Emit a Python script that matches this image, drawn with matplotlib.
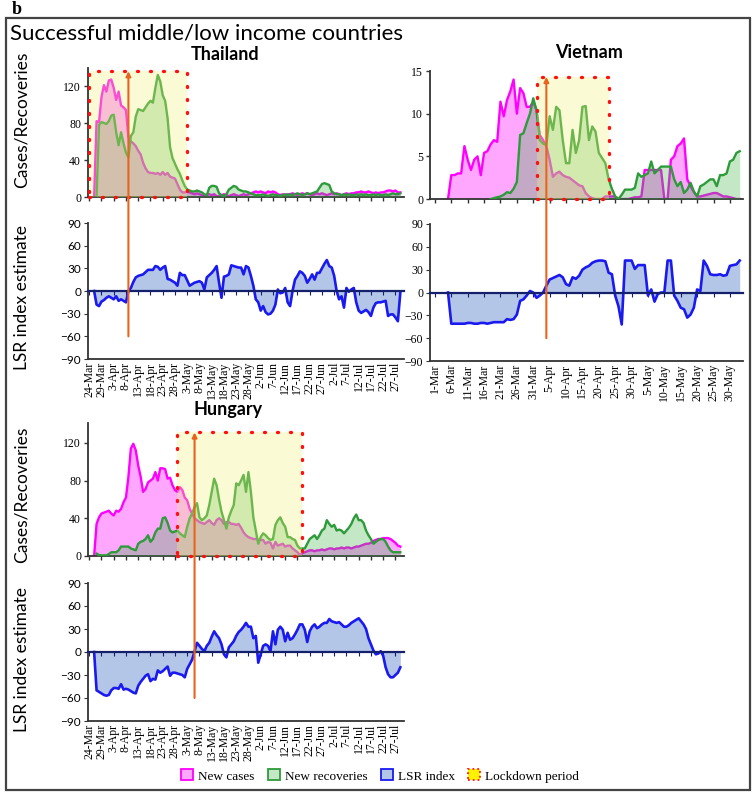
import matplotlib
matplotlib.use('Agg')
import matplotlib.pyplot as plt
from matplotlib.patches import Rectangle, Patch, ConnectionPatch
import numpy as np
import pandas as pd

# ---- data (daily values) ----
th_axis_start = '2020-03-24'
th_case_start = '2020-03-26'
th_cases = [0, 82, 81, 108, 121, 114, 126, 127, 118, 105, 114,
            99, 97, 94, 65, 60, 58, 55, 50, 46, 37,
            31, 27, 26, 26, 25, 26, 24, 27, 24, 26,
            22, 21, 20, 14, 8, 5, 5, 6, 5, 4,
            3, 4, 3, 2, 1, 2, 3, 2, 3, 1,
            1, 2, 3, 2, 1, 2, 3, 2, 1, 2,
            3, 2, 3, 4, 5, 6, 5, 6, 5, 4,
            6, 5, 6, 5, 3, 2, 3, 2, 3, 3,
            4, 3, 2, 3, 4, 3, 4, 3, 2, 3,
            4, 3, 4, 3, 2, 3, 4, 3, 4, 3,
            2, 3, 4, 3, 4, 4, 5, 5, 6, 5,
            5, 6, 5, 4, 5, 4, 5, 5, 6, 7,
            7, 6, 7, 5, 5]
th_rec_start = '2020-03-27'
th_recoveries = [2, 78, 81, 80, 79, 82, 88, 89, 70, 56,
                 70, 58, 48, 43, 66, 70, 87, 95, 94, 93,
                 97, 101, 104, 102, 118, 132, 125, 110, 104, 85,
                 54, 42, 36, 30, 25, 18, 12, 8, 7, 6,
                 6, 7, 6, 5, 3, 2, 10, 12, 12, 11,
                 4, 2, 1, 3, 8, 10, 12, 11, 8, 7,
                 6, 6, 5, 4, 3, 2, 2, 2, 3, 2,
                 1, 2, 3, 2, 2, 1, 2, 3, 2, 3,
                 2, 3, 4, 3, 2, 3, 4, 3, 4, 5,
                 6, 10, 14, 15, 14, 13, 6, 4, 3, 3,
                 2, 3, 2, 3, 2, 2, 3, 2, 3, 2,
                 3, 2, 2, 3, 2, 3, 2, 2, 3, 2,
                 3, 4, 3, 3, 4]
th_lsr_start = '2020-03-26'
th_lsr = [0, -18, -20, -14, -12, -9, -7, -9, -11, -7,
          -13, -11, -13, -15, 0, 4, 12, 18, 20, 21,
          22, 25, 28, 28, 28, 33, 32, 28, 31, 33,
          16, 15, 13, 11, 7, 24, 21, 21, 14, 7,
          9, 11, 12, 13, 11, 2, 18, 21, 24, 28,
          33, 11, -9, 19, 20, 22, 34, 33, 32, 31,
          31, 22, 33, 31, 20, 7, -11, -15, -26, -20,
          -28, -31, -30, -26, -18, 2, -3, -2, 4, -15,
          -20, 0, 15, 20, 26, 24, 20, 11, 16, 22,
          15, 24, 24, 30, 36, 41, 33, 31, 20, 0,
          -11, -7, -22, 4, -1, 2, 4, -15, -26, -29,
          -27, -25, -28, -33, -22, -16, -15, -15, -14, -13,
          -33, -31, -31, -35, -40, -2]
th_lockdown = ('2020-03-24', '2020-05-03')
th_arrow_date = '2020-04-09'

vn_axis_start = '2020-03-01'
vn_case_start = '2020-03-05'
vn_cases = [0, 2.8, 2.8, 3, 3, 6.2, 4.6, 3.4, 4.6, 5,
            2.8, 5.4, 5.6, 6.4, 6.9, 6.7, 11.4, 9.7, 11.6, 12.6,
            14, 10, 13, 12.4, 10.8, 10.8, 11.4, 10.4, 7.5, 6.9,
            6.2, 4.6, 2.6, 3, 3.2, 2.8, 2.6, 2.5, 2.2, 1.9,
            1.6, 1.5, 0.7, 0.3, 0.1, 0, 0, 0, 0.3, 0.3,
            0.3, 0.3, 0, 0, 0, 0, 0.1, 0.2, 0.2, 0.3,
            3.4, 3.4, 3.4, 3.4, 3.4, 3.4, 0, 0, 4.6, 5,
            6.2, 6.5, 7.1, 2.3, 1.5, 0.8, 0.3, 0.3, 0.4, 0.5,
            0.6, 0.7, 0.7, 0.5, 0.3, 0.3, 0.2, 0.1, 0, 0]
vn_rec_start = '2020-03-18'
vn_recoveries = [0, 0.1, 0.2, 0.3, 0.5, 0.8, 0.7, 1.2, 2, 7.5,
                 7.7, 8.9, 10, 11.8, 10.4, 6.9, 6.5, 6.3, 9.7, 8.1,
                 10.8, 10.4, 6.9, 4.2, 4.2, 8.1, 5.4, 6.9, 10.8, 10.9,
                 6.9, 8.5, 7.9, 5.4, 4.8, 4.2, 2.3, 1.2, 0.3, 0,
                 0.5, 1.1, 1.1, 1.1, 1.3, 3, 2.6, 2.8, 3, 4.4,
                 3, 3.4, 3.8, 3.8, 3.8, 3.8, 2.3, 1.5, 2, 0.7,
                 1.1, 1.9, 0.9, 0.3, 1.5, 1.7, 2, 2.3, 2.3, 1.5,
                 2.8, 2.8, 3, 4.4, 4.6, 5.4, 5.6]
vn_lsr_start = '2020-03-05'
vn_lsr = [0, -41, -41, -41, -41, -41, -40, -40, -41, -41,
          -40, -40, -41, -40, -39, -39, -39, -39, -35, -36,
          -35, -29, -11, -9, -4, 2, 0, -7, -4, 0,
          9, 17, 19, 21, 23, 20, 11, 9, 20, 18,
          22, 30, 33, 35, 39, 41, 42, 42, 41, 26,
          24, -4, -18, -42, 42, 42, 42, 31, 36, 36,
          36, -4, 4, -12, -2, 0, 0, 42, 42, -4,
          -11, -20, -22, -33, -29, -20, 4, 2, 42, 35,
          24, 23, 23, 24, 22, 23, 35, 36, 37, 42]
vn_lockdown = ('2020-04-01', '2020-04-23')
vn_arrow_date = '2020-04-04'

hu_axis_start = '2020-03-24'
hu_case_start = '2020-03-26'
hu_cases = [0, 34, 41, 45, 46, 47, 48, 45, 43, 48, 47,
            50, 57, 62, 84, 114, 119, 112, 96, 84, 68,
            71, 78, 80, 82, 89, 80, 93, 93, 92, 82,
            83, 75, 70, 68, 73, 70, 62, 59, 50, 45,
            40, 38, 36, 35, 34, 36, 38, 35, 33, 38,
            40, 38, 34, 36, 36, 34, 34, 33, 34, 30,
            25, 22, 20, 19, 18, 18, 17, 17, 17, 13,
            15, 14, 8, 15, 11, 12, 13, 10, 11, 11,
            8, 6, 4, 1, 3, 4, 5, 6, 6, 5,
            6, 6, 7, 6, 7, 8, 8, 7, 8, 8,
            9, 8, 9, 9, 8, 9, 10, 10, 11, 12,
            13, 13, 14, 16, 17, 18, 18, 19, 19, 19,
            18, 16, 14, 11, 10]
hu_rec_start = '2020-03-27'
hu_recoveries = [2.5, 1, 0.7, 0.7, 0.7, 2, 4, 4, 4, 6,
                 10, 10, 10, 10, 8, 7, 6, 13, 15, 16,
                 18, 22, 15, 18, 25, 29, 29, 40, 41, 35,
                 27, 25, 26, 27, 24, 22, 20, 31, 40, 45,
                 52, 56, 41, 38, 40, 43, 54, 68, 82, 75,
                 60, 47, 38, 29, 41, 48, 54, 77, 75, 80,
                 86, 68, 89, 68, 41, 27, 13, 20, 24, 22,
                 19, 17, 18, 33, 38, 41, 35, 31, 20, 20,
                 18, 17, 11, 8, 8, 8, 13, 18, 20, 22,
                 18, 22, 27, 29, 38, 34, 31, 33, 27, 28,
                 27, 24, 27, 30, 34, 40, 44, 38, 38, 35,
                 27, 22, 18, 13, 15, 17, 18, 18, 15, 10,
                 6, 4, 4, 4, 4]
hu_lsr_start = '2020-03-26'
hu_lsr = [0, -50, -52, -54, -56, -57, -56, -50, -47, -47,
          -48, -42, -49, -48, -49, -51, -53, -54, -44, -39,
          -35, -31, -29, -38, -35, -36, -24, -27, -25, -22,
          -19, -31, -27, -27, -28, -29, -30, -33, -22, -16,
          -10, 1, 12, 8, 4, 1, 8, 12, 20, 27,
          22, 18, 10, -3, -7, 6, 10, 14, 21, 26,
          29, 33, 38, 33, 33, 18, 21, -14, -3, 8,
          10, 8, 1, 27, 10, 29, 33, 29, 14, 25,
          16, 18, 23, 29, 36, 36, 29, 13, 27, 33,
          36, 31, 33, 36, 38, 38, 43, 40, 39, 38,
          39, 36, 33, 33, 35, 38, 40, 42, 44, 40,
          36, 30, 18, 10, 2, -3, -2, 1, -5, -20,
          -29, -33, -33, -30, -27, -20]
hu_lockdown = ('2020-04-29', '2020-06-19')
hu_arrow_date = '2020-05-06'

legend_labels = ['New cases', 'New recoveries', 'LSR index', 'Lockdown period']

# ---- style ----
W, H = 755, 795
MAG = '#FF00FF'
GRN_FILL = '#3CB043'
GRN_LINE = '#2E9B3A'
LSR_LINE = '#1A1AF0'
LSR_FILL = '#B4C6E7'
NAVY = '#14206B'
ORANGE = '#E8641E'
SERIF = 'Liberation Serif'
SANS = 'Lato'

fig = plt.figure(figsize=(W / 100, H / 100), dpi=100)


def add_ax(l, t, r, b):
    return fig.add_axes([l / W, 1 - b / H, (r - l) / W, (b - t) / H])


def day(date, start):
    return (pd.Timestamp(date) - pd.Timestamp(start)).days


def days_for(start_date, axis_start, vals):
    return day(start_date, axis_start) + np.arange(len(vals))


def draw_country(ax_top, ax_lsr, axis_start, n_ticks, xlim, ylim_top, yticks_top,
                 cases, case_start, recs, rec_start, lsr, lsr_start,
                 lockdown, box_top, arrow_date, lsr_tick_font):
    xc = days_for(case_start, axis_start, cases)
    xr = days_for(rec_start, axis_start, recs)
    xl = days_for(lsr_start, axis_start, lsr)
    tick_dates = pd.date_range(axis_start, periods=n_ticks, freq='5D')
    ticks = [day(t, axis_start) for t in tick_dates]
    labels = [f'{t.day}-{t.strftime("%b")}' for t in tick_dates]

    # cases / recoveries
    ax_top.fill_between(xc, 0, cases, color=MAG, alpha=0.35, lw=0, zorder=1)
    ax_top.plot(xc, cases, color=MAG, lw=1.7, zorder=2)
    ax_top.fill_between(xr, 0, recs, color=GRN_FILL, alpha=0.3, lw=0, zorder=3)
    ax_top.plot(xr, recs, color=GRN_LINE, lw=1.7, zorder=3)
    s, e = day(lockdown[0], axis_start), day(lockdown[1], axis_start)
    ax_top.add_patch(Rectangle((s, 0), e - s, box_top, facecolor='#F2F27A',
                               alpha=0.32, edgecolor='none', zorder=4))
    box = Rectangle((s, 0), e - s, box_top, fill=False, edgecolor='#FF1010',
                    lw=2.4, linestyle=(0, (0.3, 3.6)), zorder=5, clip_on=False)
    box.set_capstyle('round')
    ax_top.add_patch(box)
    ax_top.set_xlim(*xlim)
    ax_top.set_ylim(0, ylim_top)
    ax_top.set_xticks(ticks)
    ax_top.set_xticklabels([])
    ax_top.set_yticks(yticks_top)
    for t in ax_top.get_yticklabels():
        t.set_fontfamily(SERIF)
    ax_top.tick_params(axis='both', direction='out', length=3, width=1, labelsize=8.5,
                       color='#333333', pad=2)
    for sp in ['top', 'right']:
        ax_top.spines[sp].set_visible(False)
    for sp in ['left', 'bottom']:
        ax_top.spines[sp].set_color('#333333')
        ax_top.spines[sp].set_linewidth(1.3)

    # LSR index
    ax_lsr.fill_between(xl, 0, lsr, color=LSR_FILL, lw=0, zorder=1)
    ax_lsr.plot(xl, lsr, color=LSR_LINE, lw=1.9, zorder=3)
    ax_lsr.set_xlim(*xlim)
    ax_lsr.set_ylim(-90, 90)
    ax_lsr.set_yticks(np.arange(-90, 91, 30))
    for t in ax_lsr.get_yticklabels():
        t.set_fontfamily(lsr_tick_font)
    ax_lsr.spines['bottom'].set_position(('data', 0))
    ax_lsr.spines['bottom'].set_color(NAVY)
    ax_lsr.spines['bottom'].set_linewidth(1.6)
    ax_lsr.spines['bottom'].set_zorder(4)
    ax_lsr.set_xticks(ticks)
    ax_lsr.tick_params(axis='x', direction='out', length=3, color=NAVY, labelbottom=False)
    ax_lsr.tick_params(axis='y', direction='out', length=3, color='#333333', labelsize=8.5, pad=2)
    for sp in ['top', 'right']:
        ax_lsr.spines[sp].set_visible(False)
    ax_lsr.spines['left'].set_color('#333333')
    ax_lsr.spines['left'].set_linewidth(1.3)
    sec = ax_lsr.secondary_xaxis('bottom')
    sec.set_xticks(ticks, labels, fontfamily=SERIF, fontsize=8.5, rotation=90)
    sec.tick_params(length=0, pad=2)
    sec.spines['bottom'].set_color('#333333')
    sec.spines['bottom'].set_linewidth(1.3)

    # lockdown start arrow across both panels
    d = day(arrow_date, axis_start)
    con = ConnectionPatch(xyA=(d, -60), coordsA=ax_lsr.transData,
                          xyB=(d, box_top), coordsB=ax_top.transData,
                          arrowstyle='-|>', mutation_scale=7, color=ORANGE, lw=1.5, zorder=10)
    fig.add_artist(con)


ax_th = add_ax(88, 68, 404, 197)
ax_th_l = add_ax(88, 223, 404, 359)
ax_vn = add_ax(430, 71, 743, 199)
ax_vn_l = add_ax(430, 224, 743, 361)
ax_hu = add_ax(88, 423, 404, 556)
ax_hu_l = add_ax(88, 583, 404, 721)

draw_country(ax_th, ax_th_l, th_axis_start, 26, (-0.5, 128.5), 139.5, [0, 40, 80, 120],
             th_cases, th_case_start, th_recoveries, th_rec_start, th_lsr, th_lsr_start,
             th_lockdown, 136, th_arrow_date, SANS)
draw_country(ax_vn, ax_vn_l, vn_axis_start, 19, (-1.5, 94), 15, [0, 5, 10, 15],
             vn_cases, vn_case_start, vn_recoveries, vn_rec_start, vn_lsr, vn_lsr_start,
             vn_lockdown, 14.3, vn_arrow_date, SERIF)
draw_country(ax_hu, ax_hu_l, hu_axis_start, 26, (-0.5, 128.5), 141, [0, 40, 80, 120],
             hu_cases, hu_case_start, hu_recoveries, hu_rec_start, hu_lsr, hu_lsr_start,
             hu_lockdown, 131, hu_arrow_date, SANS)

# ---- texts ----
fig.text(12 / W, 1 - 10 / H, 'b', family=SERIF, weight='bold', size=13, ha='left', va='center')
fig.text(10 / W, 1 - 33 / H, 'Successful middle/low income countries', family=SANS,
         size=16, ha='left', va='center')
fig.text(225 / W, 1 - 55 / H, 'Thailand', family=SANS, weight='bold', size=13, ha='center', va='center')
fig.text(589 / W, 1 - 52 / H, 'Vietnam', family=SANS, weight='bold', size=13, ha='center', va='center')
fig.text(228 / W, 1 - 410 / H, 'Hungary', family=SANS, weight='bold', size=13, ha='center', va='center')
for yc, txt in [(120, 'Cases/Recoveries'), (298, 'LSR index estimate'),
                (495, 'Cases/Recoveries'), (660, 'LSR index estimate')]:
    fig.text(22 / W, 1 - yc / H, txt, family=SANS, size=12.5, rotation=90, ha='center', va='center')

# outer frame
fig.add_artist(Rectangle((6 / W, 5 / H), 744 / W, 772 / H, transform=fig.transFigure,
                         fill=False, edgecolor='#444444', lw=1.6))

handles = [Patch(facecolor='#FFA6FF', edgecolor=MAG, lw=1.3),
           Patch(facecolor='#C4E7C6', edgecolor=GRN_LINE, lw=1.3),
           Patch(facecolor=LSR_FILL, edgecolor=LSR_LINE, lw=1.3),
           Patch(facecolor='#FFF200', edgecolor='#FF1010', lw=1.3, linestyle=':')]
fig.legend(handles, legend_labels, loc='center', bbox_to_anchor=(380 / W, 1 - 776 / H), ncol=4,
           frameon=False, prop={'family': SERIF, 'size': 9.5}, handlelength=0.9, handleheight=0.9,
           columnspacing=1.0, handletextpad=0.4)

fig.savefig('out.png', dpi=100)
